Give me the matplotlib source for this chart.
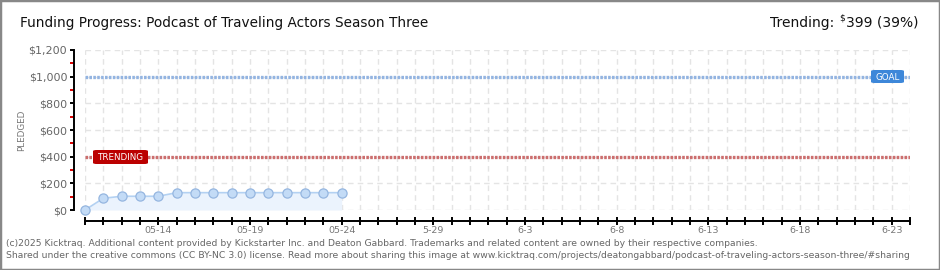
import matplotlib
matplotlib.use("Agg")
import matplotlib.pyplot as plt
from matplotlib.patches import Rectangle, FancyBboxPatch
from matplotlib.ticker import MultipleLocator, FixedLocator, FuncFormatter
import datetime as dt

# ---- data ----
start_date = dt.date(2025, 5, 10)
n_days = 45                      # axis runs from day 0 to day 45 (05-10 .. 06-24)
pledged = [0, 88, 103, 103, 103, 130, 130, 130, 130, 130, 130, 130, 130, 130, 130]
goal = 1000
trending = 400
title = "Funding Progress: Podcast of Traveling Actors Season Three"
trend_label = "Trending:"
trend_value = "399 (39%)"
footer1 = ("(c)2025 Kicktraq. Additional content provided by Kickstarter Inc. and Deaton Gabbard. "
           "Trademarks and related content are owned by their respective companies.")
footer2 = ("Shared under the creative commons (CC BY-NC 3.0) license. Read more about sharing this image at "
           "www.kicktraq.com/projects/deatongabbard/podcast-of-traveling-actors-season-three/#sharing")

plt.rcParams['lines.scale_dashes'] = False
W, H = 940, 270
fig = plt.figure(figsize=(W / 100, H / 100), dpi=100)
fig.patch.set_facecolor("white")
PT = 0.72  # points per pixel


def fx(px):
    return px / W


def fy(py):
    return 1 - py / H


ax = fig.add_axes([fx(85), fy(210), fx(910) - fx(85), fy(50) - fy(210)])
ax.set_xlim(0, n_days)
ax.set_ylim(0, 1200)
ax.set_facecolor("white")

days = list(range(len(pledged)))
ax.fill_between(days, pledged, 0, color="#ebf3fd", zorder=1, lw=0)
ax.plot(days, pledged, color="#b3d1f2", lw=1.2, zorder=3, marker="o", ms=6.6,
        mfc="#c3dbf6", mec="#95b6e0", mew=0.9, clip_on=False)

# goal & trending lines
ax.axhline(goal, color="#93b4e1", lw=3.3 * PT, dashes=(2.6 * PT, 1.3 * PT), zorder=2)
ax.axhline(trending, color="#cc6e6e", lw=3.3 * PT, dashes=(2.6 * PT, 1.3 * PT), zorder=2)

# grid
ax.xaxis.set_major_locator(MultipleLocator(1))
ax.yaxis.set_major_locator(MultipleLocator(200))
ax.yaxis.set_minor_locator(FixedLocator(list(range(100, 1200, 200))))
ax.grid(True, which="major", color="#e4e4e4", lw=1, dashes=(4, 3))
ax.set_axisbelow(True)

# spines
for s in ["top", "right"]:
    ax.spines[s].set_visible(False)
ax.spines["left"].set_position(("outward", 11 * PT))
ax.spines["bottom"].set_position(("outward", 11 * PT))
ax.spines["left"].set_bounds(0, 1200)
ax.spines["left"].set_color("black")
ax.spines["bottom"].set_color("black")
ax.spines["left"].set_linewidth(1.4)
ax.spines["bottom"].set_linewidth(1.4)


def ylab(v, pos):
    return "${:,.0f}".format(v)


ax.yaxis.set_major_formatter(FuncFormatter(ylab))


def xlab(v, pos):
    i = int(round(v))
    if i % 5 == 4:
        d = start_date + dt.timedelta(days=i)
        if d.month == 5 and d.day < 25:
            return d.strftime("%m-%d")
        return "{}-{}".format(d.month, d.day)
    return ""


ax.xaxis.set_major_formatter(FuncFormatter(xlab))
ax.tick_params(axis="y", which="major", length=4 * PT, width=1.4, color="black",
               labelsize=8, labelcolor="#666666", pad=2)
ax.tick_params(axis="y", which="minor", length=4 * PT, width=1.4, color="#dd0000")
ax.tick_params(axis="x", which="major", direction="inout", length=8 * PT, width=1.4,
               color="black", labelsize=6.8, labelcolor="#777777", pad=0.5)

fig.text(fx(22), fy(130), "PLEDGED", rotation=90, ha="center", va="center",
         fontsize=6.3, color="#777777")


# label boxes
def label_box(x0, x1, y0, y1, txt, fc):
    r = FancyBboxPatch((fx(x0), fy(y1)), fx(x1) - fx(x0), fy(y0) - fy(y1),
                       boxstyle="round,pad=0,rounding_size=0.004", transform=fig.transFigure,
                       fc=fc, ec="none", zorder=5)
    fig.patches.append(r)
    fig.text(fx((x0 + x1) / 2), fy((y0 + y1) / 2 + 0.5), txt, ha="center", va="center",
             color="white", fontsize=6.3, zorder=6)


label_box(93, 148, 150, 164, "TRENDING", "#bb0000")
label_box(871, 904, 70, 83, "GOAL", "#3d87d9")

# title & trending text
fam = ["Liberation Sans Narrow", "DejaVu Sans"]
fig.text(fx(20), fy(23), title, ha="left", va="center", fontsize=9.8,
         family=fam, color="#111111")
fig.canvas.draw()
r = fig.canvas.get_renderer()
t_val = fig.text(fx(918), fy(23), trend_value, ha="right", va="center", fontsize=10,
                 family=fam, color="#111111")
bb = t_val.get_window_extent(renderer=r)
x_left = bb.x0  # display pixels (origin bottom)
t_dol = fig.text((x_left - 1) / W, fy(18), "$", ha="right", va="center", fontsize=6.5,
                 family=fam, color="#111111")
bb2 = t_dol.get_window_extent(renderer=r)
fig.text((bb2.x0 - 5) / W, fy(23), trend_label, ha="right", va="center", fontsize=10,
         family=fam, color="#111111")

# footer
fig.text(fx(6), fy(243), footer1, ha="left", va="center", fontsize=6.7,
         family=fam, color="#666666")
fig.text(fx(6), fy(256), footer2, ha="left", va="center", fontsize=6.7,
         family=fam, color="#666666")

# frame
fig.patches.append(Rectangle((0, 0), 1, 1, transform=fig.transFigure, fill=False,
                             ec="#888888", lw=2.5, zorder=10))

fig.savefig("out.png", dpi=100)
